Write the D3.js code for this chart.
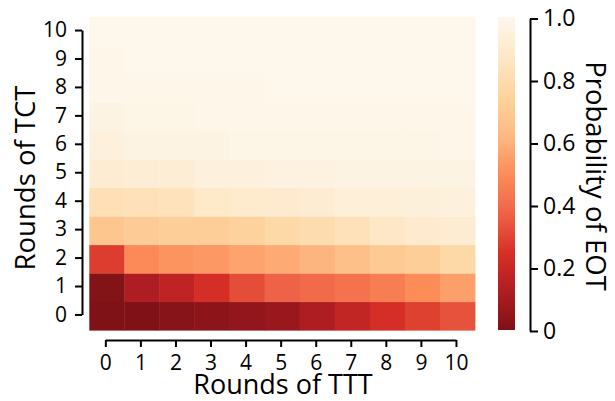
<!DOCTYPE html>
<html><head><meta charset="utf-8">
<script src="https://cdn.jsdelivr.net/npm/d3@7"></script>
<style>body{margin:0;background:#fff}svg{display:block}text{font-family:"Open Sans",sans-serif;fill:#000}</style>
</head><body><svg id="c" width="615" height="401"></svg>
<script>
const tttRounds = [0,1,2,3,4,5,6,7,8,9,10];
const tctRounds = [0,1,2,3,4,5,6,7,8,9,10];
// probability of EOT, rows indexed by TCT rounds (0..10), columns by TTT rounds (0..10)
const row0  = [0.00,0.005,0.02,0.035,0.05,0.07,0.12,0.18,0.24,0.29,0.33];
const row1  = [0.01,0.12,0.17,0.24,0.32,0.37,0.39,0.42,0.45,0.50,0.55];
const row2  = [0.28,0.49,0.52,0.53,0.56,0.58,0.61,0.65,0.70,0.72,0.78];
const row3  = [0.68,0.71,0.72,0.72,0.74,0.78,0.80,0.83,0.87,0.90,0.91];
const row4  = [0.82,0.83,0.84,0.88,0.89,0.90,0.91,0.93,0.93,0.94,0.95];
const row5  = [0.91,0.92,0.92,0.95,0.95,0.96,0.96,0.97,0.97,0.97,0.97];
const row6  = [0.95,0.97,0.97,0.97,0.98,0.98,0.98,0.98,0.98,0.98,0.99];
const row7  = [0.97,0.98,0.98,0.99,0.99,0.99,0.99,0.99,0.99,0.99,0.99];
const row8  = [0.99,0.99,0.99,0.99,0.99,1.00,1.00,1.00,1.00,1.00,1.00];
const row9  = [0.99,1.00,1.00,1.00,1.00,1.00,1.00,1.00,1.00,1.00,1.00];
const row10 = [1.00,1.00,1.00,1.00,1.00,1.00,1.00,1.00,1.00,1.00,1.00];
const grid = [row0,row1,row2,row3,row4,row5,row6,row7,row8,row9,row10];
const cbTicks = [0,0.2,0.4,0.6,0.8,1.0];

const svg = d3.select("#c");
const L=89.3, R=475, T=16.8, B=330.2;
const x = d3.scaleBand().domain(tttRounds).range([L,R]).padding(0);
const y = d3.scaleBand().domain(tctRounds).range([B,T]).padding(0);
const stops = ["#7e1216","#b01d23","#d73026","#ef6548","#fc8d59","#fdbb84","#fdd49e","#fee8c8","#fdf7ec"];
const color = d3.scaleLinear().domain(d3.range(stops.length).map(i=>i/(stops.length-1))).range(stops).interpolate(d3.interpolateRgb).clamp(true);

const cells = [];
grid.forEach((row,i)=>row.forEach((v,j)=>cells.push({tct:tctRounds[i], ttt:tttRounds[j], v})));
svg.append("g").selectAll("rect").data(cells).join("rect")
  .attr("x",d=>x(d.ttt)).attr("y",d=>y(d.tct))
  .attr("width",x.bandwidth()+0.4).attr("height",y.bandwidth()+0.4)
  .attr("fill",d=>color(d.v));

// axes
const xa = d3.scalePoint().domain(tttRounds).range([x(0)+x.bandwidth()/2-1.5, x(10)+x.bandwidth()/2-1.5]);
const ya = d3.scalePoint().domain(tctRounds).range([y(0)+y.bandwidth()/2-1.5, y(10)+y.bandwidth()/2-1]);
const gx = svg.append("g").attr("transform","translate(0,340)")
  .call(d3.axisBottom(xa).tickSize(7).tickPadding(4).tickSizeOuter(0));
const gy = svg.append("g").attr("transform","translate(82,0)")
  .call(d3.axisLeft(ya).tickSize(7).tickPadding(8).tickSizeOuter(0));
[gx,gy].forEach(g=>{
  g.select(".domain").attr("stroke","#000").attr("stroke-width",2);
  g.selectAll(".tick line").attr("stroke","#000").attr("stroke-width",2);
  g.selectAll(".tick text").attr("font-size",21).attr("font-family","'Open Sans',sans-serif");
});
gx.selectAll(".tick text").attr("y",30).attr("dy",0);

svg.append("text").attr("x",283).attr("y",393.5).attr("text-anchor","middle")
  .attr("font-size",27).text("Rounds of TTT");
svg.append("text").attr("transform","translate(35,178) rotate(-90)").attr("text-anchor","middle")
  .attr("font-size",27.5).text("Rounds of TCT");

// colorbar
const cbY = d3.scaleLinear().domain([0,1]).range([331,18.5]);
const defs = svg.append("defs");
const grad = defs.append("linearGradient").attr("id","cbg").attr("x1",0).attr("y1",1).attr("x2",0).attr("y2",0);
d3.range(0,1.0001,0.05).forEach(t=>grad.append("stop").attr("offset",t).attr("stop-color",color(t)));
svg.append("rect").attr("x",498).attr("y",cbY(1)-1.5).attr("width",17).attr("height",cbY(0)-cbY(1)+0.5)
  .attr("fill","url(#cbg)");
const gc = svg.append("g").attr("transform","translate(530,0)")
  .call(d3.axisRight(cbY).tickValues(cbTicks).tickFormat(d=>d===0?"0":d3.format(".1f")(d)).tickSize(8).tickPadding(5).tickSizeOuter(0));
gc.select(".domain").attr("stroke","#000").attr("stroke-width",2);
gc.selectAll(".tick line").attr("stroke","#000").attr("stroke-width",2);
gc.selectAll(".tick text").attr("font-size",23).attr("font-family","'Open Sans',sans-serif");
svg.append("text").attr("transform","translate(586,176) rotate(90)").attr("text-anchor","middle")
  .attr("font-size",27.5).text("Probability of EOT");
</script></body></html>
